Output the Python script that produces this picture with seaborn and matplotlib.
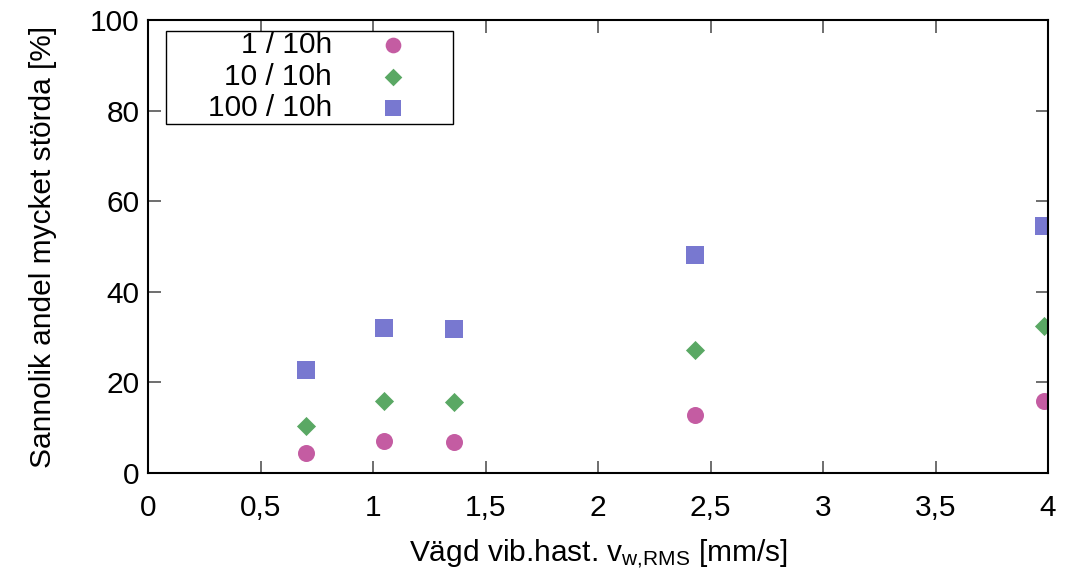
import matplotlib
matplotlib.use("Agg")
import matplotlib.pyplot as plt
import seaborn as sns
import pandas as pd
from matplotlib.patches import Rectangle

# Data
x_vals = [0.70, 1.05, 1.36, 2.43, 3.98]
series_names = ["1 / 10h", "10 / 10h", "100 / 10h"]
y_1 = [4.4, 7.0, 6.8, 12.9, 16.0]
y_10 = [10.4, 15.9, 15.6, 27.1, 32.4]
y_100 = [22.8, 32.1, 31.7, 48.2, 54.6]
x_ticks = [0, 0.5, 1, 1.5, 2, 2.5, 3, 3.5, 4]
x_ticklabels = ["0", "0,5", "1", "1,5", "2", "2,5", "3", "3,5", "4"]
y_ticks = [0, 20, 40, 60, 80, 100]

colors = ["#c45ca2", "#5aa864", "#7878d0"]
markers = ["o", "D", "s"]
sizes = [150, 95, 160]

sns.set_style("ticks")
plt.rcParams["font.family"] = ["Liberation Sans", "DejaVu Sans"]
plt.rcParams["mathtext.fontset"] = "custom"
plt.rcParams["mathtext.rm"] = "Liberation Sans"
plt.rcParams["mathtext.default"] = "regular"
plt.rcParams["text.color"] = "black"
plt.rcParams["axes.labelcolor"] = "black"

fig = plt.figure(figsize=(10.68, 5.76), dpi=100)
ax = fig.add_axes([148 / 1068, 103 / 576, 900 / 1068, 453 / 576])

df = pd.DataFrame({
    "x": x_vals * 3,
    "y": y_1 + y_10 + y_100,
    "serie": sum([[n] * len(x_vals) for n in series_names], []),
})

for name, c, m, s in zip(series_names, colors, markers, sizes):
    sub = df[df["serie"] == name]
    sns.scatterplot(data=sub, x="x", y="y", color=c, marker=m, s=s,
                    linewidth=0, ax=ax, legend=False, zorder=3)

ax.set_xlim(0, 4)
ax.set_ylim(0, 100)
ax.set_xticks(x_ticks)
ax.set_xticklabels(x_ticklabels)
ax.set_yticks(y_ticks)
ax.tick_params(direction="in", length=9, width=1.2, color="#555555",
               labelsize=21.5, top=True, right=True, labelcolor="black")
ax.tick_params(axis="x", pad=15)
ax.tick_params(axis="y", pad=6)
for sp in ax.spines.values():
    sp.set_visible(True)
    sp.set_linewidth(1.5)
    sp.set_color("black")
    sp.set_zorder(5)

ax.set_xlabel(r"Vägd vib.hast. v$_{w{,}RMS}$ [mm/s]", fontsize=21.5, labelpad=11)
ax.set_ylabel("Sannolik andel mycket störda [%]", fontsize=21.5, labelpad=24)

# Legend (gnuplot style: right-aligned labels, markers to the right)
ax.add_patch(Rectangle((0.02, 0.770), 0.319, 0.2057, transform=ax.transAxes,
                       fill=True, facecolor="white", edgecolor="black",
                       linewidth=1.0, zorder=6))
rows = [0.945, 0.874, 0.806]
for name, c, m, s, ry in zip(series_names, colors, markers, sizes, rows):
    ax.text(0.2044, ry, name, transform=ax.transAxes, ha="right", va="center",
            fontsize=21.5, zorder=7)
    ax.scatter([0.272], [ry], transform=ax.transAxes, color=c, marker=m,
               s=s * 0.85, linewidth=0, zorder=7, clip_on=False)

fig.savefig("out.png", dpi=100)
